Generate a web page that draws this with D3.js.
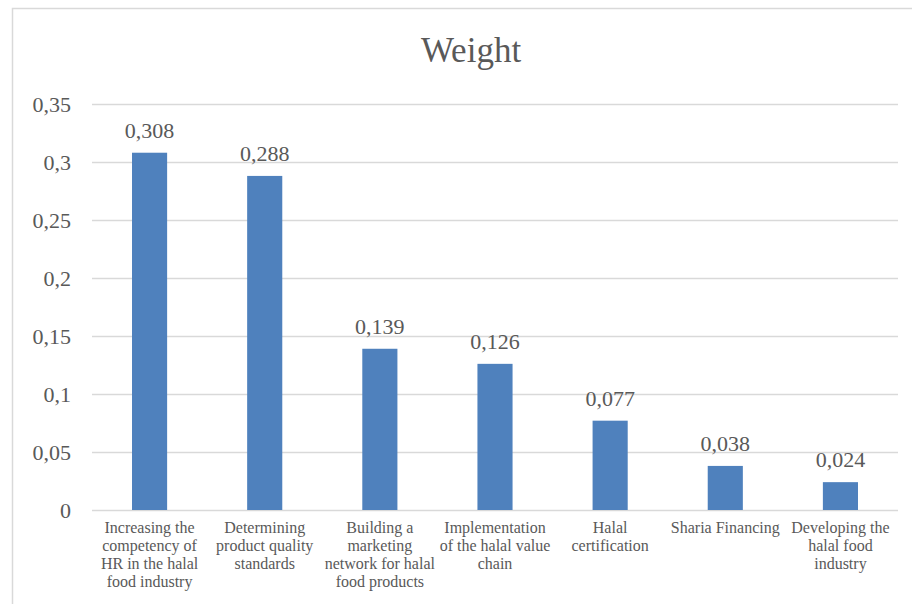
<!DOCTYPE html>
<html>
<head>
<meta charset="utf-8">
<script src="https://cdn.jsdelivr.net/npm/d3@7/dist/d3.min.js"></script>
<style>
  body { margin:0; background:#fff; }
  svg text { font-family: "Liberation Serif", "Times New Roman", "DejaVu Serif", serif !important; fill:#595959; }
</style>
</head>
<body>
<div id="chart"></div>
<script>
// Weight chart

var categories = [
  ["Increasing the", "competency of", "HR in the halal", "food industry"],
  ["Determining", "product quality", "standards"],
  ["Building a", "marketing", "network for halal", "food products"],
  ["Implementation", "of the halal value", "chain"],
  ["Halal", "certification"],
  ["Sharia Financing"],
  ["Developing the", "halal food", "industry"]
];
var weights = [0.308, 0.288, 0.139, 0.126, 0.077, 0.038, 0.024];
var yTicks = [0, 0.05, 0.1, 0.15, 0.2, 0.25, 0.3, 0.35];

var width = 912, height = 604;
var margin = {left:92, right:14, top:104, bottom:94};

var svg = d3.select("#chart").append("svg")
  .attr("width", width)
  .attr("height", height);

// outer frame (left + top visible)
svg.append("rect")
  .attr("x", 12.5).attr("y", 8.5)
  .attr("width", 1000).attr("height", 1000)
  .attr("fill", "none")
  .attr("stroke", "#d9d9d9")
  .attr("stroke-width", 1.5);

var ids = d3.range(categories.length);

var x = d3.scaleBand()
  .domain(ids)
  .range([margin.left, width - margin.right])
  .paddingInner(0.695)
  .paddingOuter(0.3475);

var y = d3.scaleLinear()
  .domain([0, 0.35])
  .range([height - margin.bottom, margin.top]);

var fmt = function(d){ return String(d).replace(".", ","); };

// gridlines
svg.append("g").selectAll("line")
  .data(yTicks)
  .enter().append("line")
  .attr("x1", margin.left).attr("x2", width - margin.right)
  .attr("y1", function(d){ return Math.round(y(d)) + 0.5; })
  .attr("y2", function(d){ return Math.round(y(d)) + 0.5; })
  .attr("stroke", "#d9d9d9")
  .attr("stroke-width", 1.5);

// y axis labels
var yAxis = d3.axisLeft(y).tickValues(yTicks).tickFormat(fmt).tickSize(0).tickPadding(21);
var ya = svg.append("g")
  .attr("transform", "translate(" + margin.left + ",0)")
  .call(yAxis);
ya.select(".domain").remove();
ya.selectAll("text")
  .attr("font-size", 22)
  .attr("dy", "0.34em")
  .attr("fill", "#595959");

// bars
svg.append("g").selectAll("rect")
  .data(weights)
  .enter().append("rect")
  .attr("x", function(d,i){ return x(i); })
  .attr("y", function(d){ return y(d); })
  .attr("width", x.bandwidth())
  .attr("height", function(d){ return y(0) - y(d); })
  .attr("fill", "#4f81bd");

// value labels
svg.append("g").selectAll("text")
  .data(weights)
  .enter().append("text")
  .attr("x", function(d,i){ return x(i) + x.bandwidth()/2; })
  .attr("y", function(d){ return y(d) - 15; })
  .attr("text-anchor", "middle")
  .attr("font-size", 22)
  .text(fmt);

// category labels
var cat = svg.append("g").selectAll("text")
  .data(categories)
  .enter().append("text")
  .attr("text-anchor", "middle")
  .attr("font-size", 16)
  .attr("x", function(d,i){ return x(i) + x.bandwidth()/2; })
  .attr("y", y(0) + 23);
cat.selectAll("tspan")
  .data(function(d){ return d; })
  .enter().append("tspan")
  .attr("x", function(){ return this.parentNode.getAttribute("x"); })
  .attr("dy", function(d,i){ return i === 0 ? 0 : 18; })
  .text(function(d){ return d; });

// title
svg.append("text")
  .attr("x", 471)
  .attr("y", 62)
  .attr("text-anchor", "middle")
  .attr("font-size", 35)
  .text("Weight");
</script>
</body>
</html>
